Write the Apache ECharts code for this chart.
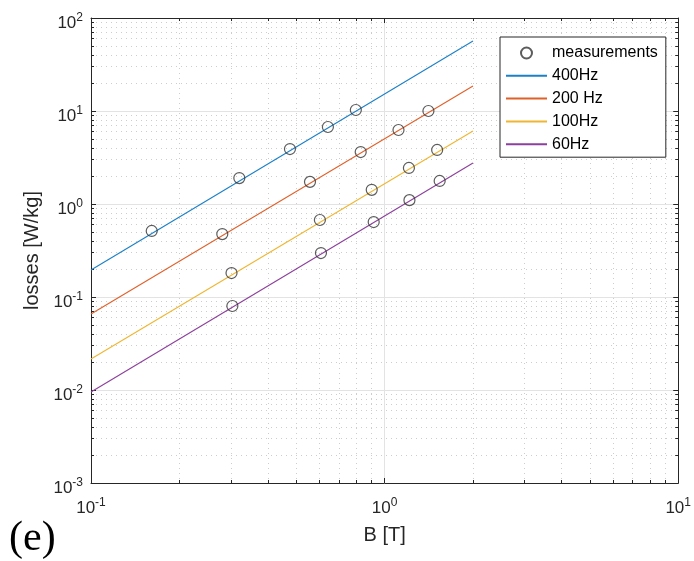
<!DOCTYPE html>
<html>
<head>
<meta charset="utf-8">
<script src="https://cdn.jsdelivr.net/npm/echarts@6/dist/echarts.min.js"></script>
<style>
html,body{margin:0;padding:0;background:#fff;}
#chart{width:694px;height:561px;}
</style>
</head>
<body>
<div id="chart"></div>
<script>
// ---- data ----
const B400 = [0.161, 0.320, 0.476, 0.641, 0.798];
const P400 = [0.513, 1.90, 3.90, 6.73, 10.25];
const B200 = [0.280, 0.557, 0.829, 1.115, 1.41];
const P200 = [0.475, 1.73, 3.62, 6.25, 10.0];
const B100 = [0.301, 0.602, 0.904, 1.21, 1.51];
const P100 = [0.181, 0.673, 1.42, 2.44, 3.81];
const B60 = [0.303, 0.607, 0.918, 1.215, 1.54];
const P60 = [0.080, 0.297, 0.640, 1.10, 1.77];

const fitB = [0.1, 2];
const fit400 = [0.195, 56.6];
const fit200 = [0.0656, 18.6];
const fit100 = [0.0215, 6.09];
const fit60 = [0.0095, 2.76];

const seriesNames = ['measurements', '400Hz', '200 Hz', '100Hz', '60Hz'];

const xMajor = [0.1, 1, 10];
const xMinor = [0.2, 0.3, 0.4, 0.5, 0.6, 0.7, 0.8, 0.9, 2, 3, 4, 5, 6, 7, 8, 9];
const yMajor = [0.001, 0.01, 0.1, 1, 10, 100];
const yMinor = [0.002, 0.003, 0.004, 0.005, 0.006, 0.007, 0.008, 0.009,
  0.02, 0.03, 0.04, 0.05, 0.06, 0.07, 0.08, 0.09,
  0.2, 0.3, 0.4, 0.5, 0.6, 0.7, 0.8, 0.9,
  2, 3, 4, 5, 6, 7, 8, 9,
  20, 30, 40, 50, 60, 70, 80, 90];

// ---- build ----
const pairs = (xs, ys) => xs.map((x, i) => [x, ys[i]]);
const measurements = [].concat(pairs(B400, P400), pairs(B200, P200), pairs(B100, P100), pairs(B60, P60));

const axisColor = '#262626';
const fontFam = '"Liberation Sans", Arial, Helvetica, sans-serif';

function expLabel(v) {
  const e = Math.round(Math.log10(v));
  return '{b|10}{s|' + e + '}';
}
const rich = {
  b: {fontSize: 17, lineHeight: 20, verticalAlign: 'bottom', color: axisColor, fontFamily: fontFam},
  s: {fontSize: 12, lineHeight: 20, verticalAlign: 'top', color: axisColor, fontFamily: fontFam}
};

function mkAxis(kind, pos, min, max, ticks, major, main) {
  const ax = {
    type: 'log', logBase: 10, min: min, max: max, position: pos,
    axisLine: {show: major, onZero: false, lineStyle: {color: axisColor, width: 1}},
    axisTick: {show: true, inside: true, length: major ? 5 : 3, customValues: ticks,
      lineStyle: {color: axisColor, width: 1}},
    axisLabel: {show: false},
    splitLine: {show: false},
    minorTick: {show: false},
    minorSplitLine: {show: false}
  };
  if (main) {
    ax.splitLine = {show: true, lineStyle: {color: '#e3e3e3', width: 1, type: 'solid'}};
    ax.axisLabel = {show: true, customValues: ticks, formatter: expLabel, rich: rich,
      margin: kind === 'x' ? 14 : 8, padding: kind === 'x' ? 0 : [8, 0, 0, 0]};
    ax.name = kind === 'x' ? 'B [T]' : 'losses [W/kg]';
    ax.nameLocation = 'middle';
    ax.nameGap = kind === 'x' ? 42 : 48;
    ax.nameTextStyle = {fontSize: 20, color: axisColor, fontFamily: fontFam};
  }
  if (!major && pos !== 'top' && pos !== 'right') {
    ax.splitLine = {show: true, lineStyle: {color: '#cdcdcd', width: 1, type: [1, 4]}};
  }
  return ax;
}

const xAxes = [
  mkAxis('x', 'bottom', 0.1, 10, xMajor, true, true),
  mkAxis('x', 'bottom', 0.1, 10, xMinor, false, false),
  mkAxis('x', 'top', 0.1, 10, xMajor, true, false),
  mkAxis('x', 'top', 0.1, 10, xMinor, false, false)
];
const yAxes = [
  mkAxis('y', 'left', 0.001, 100, yMajor, true, true),
  mkAxis('y', 'left', 0.001, 100, yMinor, false, false),
  mkAxis('y', 'right', 0.001, 100, yMajor, true, false),
  mkAxis('y', 'right', 0.001, 100, yMinor, false, false)
];

function lineSeries(name, ys, color) {
  return {
    name: name, type: 'line', xAxisIndex: 0, yAxisIndex: 0,
    data: pairs(fitB, ys), symbol: 'none', showSymbol: false, silent: true, z: 3,
    lineStyle: {color: color, width: 1.1}, itemStyle: {color: color}
  };
}

const legendData = seriesNames.map((n, i) => i === 0 ? {name: n} : {name: n, itemStyle: {opacity: 0}});

const option = {
  animation: false,
  backgroundColor: '#fff',
  grid: {left: 91, right: 13, top: 18, bottom: 78, containLabel: false},
  xAxis: xAxes,
  yAxis: yAxes,
  legend: {
    data: legendData,
    orient: 'vertical', left: 500, top: 37,
    itemWidth: 41, itemHeight: 11, itemGap: 6.8,
    padding: [8, 8, 5, 5],
    borderColor: axisColor, borderWidth: 1, backgroundColor: '#fff', borderRadius: 0,
    textStyle: {fontSize: 16, color: '#000', fontFamily: fontFam},
    selectedMode: false
  },
  series: [
    lineSeries('400Hz', fit400, '#1a80c8'),
    lineSeries('200 Hz', fit200, '#e0602a'),
    lineSeries('100Hz', fit100, '#efb630'),
    lineSeries('60Hz', fit60, '#8c3f9c'),
    {
      name: 'measurements', type: 'scatter', xAxisIndex: 0, yAxisIndex: 0,
      data: measurements, symbol: 'circle', symbolSize: 11, z: 4, silent: true,
      itemStyle: {color: 'rgba(255,255,255,0)', borderColor: '#333', borderWidth: 1.2}
    }
  ],
  graphic: [{
    type: 'text', left: 9, top: 518,
    style: {text: '(e)', fontSize: 42, fontFamily: '"Liberation Serif", "Times New Roman", serif', fill: '#000'}
  }]
};

const chart = echarts.init(document.getElementById('chart'), null, {renderer: 'canvas'});
chart.setOption(option);
</script>
</body>
</html>
